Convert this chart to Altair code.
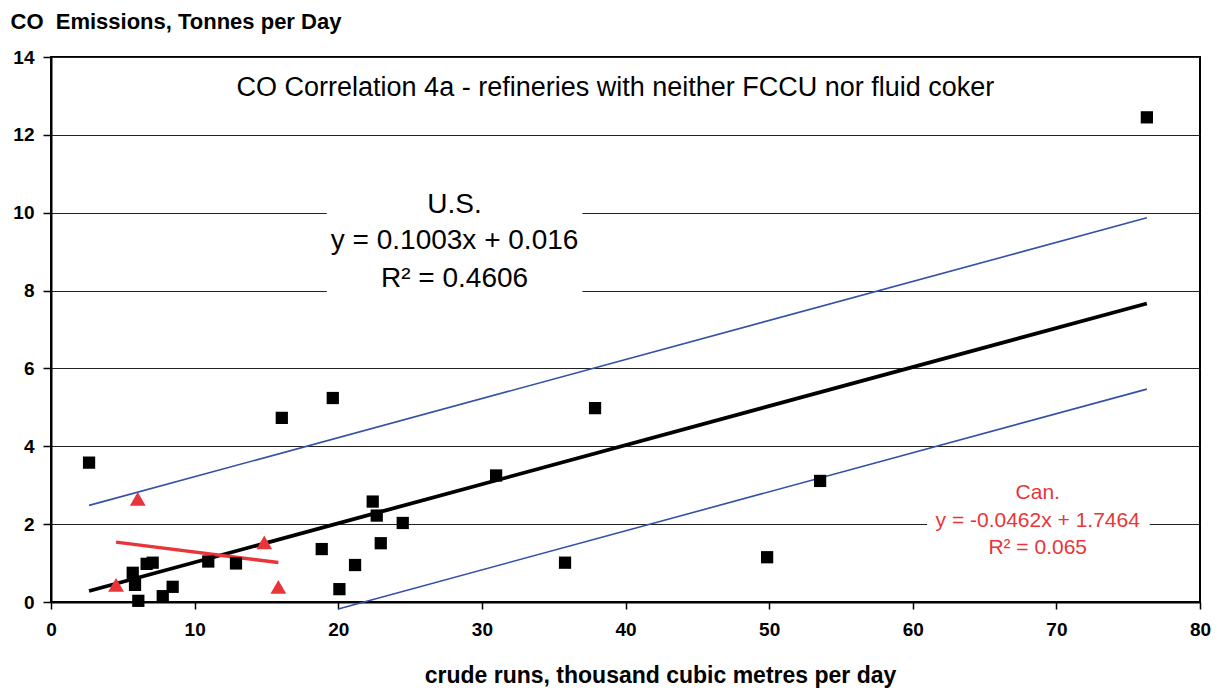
import altair as alt
import pandas as pd

# U.S. refineries (black squares)
us_x = [2.65, 5.69, 5.85, 6.08, 6.66, 7.08, 7.78, 8.47, 10.95, 12.88, 16.07, 19.62,
        18.85, 20.08, 21.17, 22.40, 22.68, 24.49, 22.96, 30.99, 37.88, 35.79, 49.86,
        53.55, 76.30]
us_y = [3.58, 0.75, 0.44, 0.03, 0.98, 1.01, 0.15, 0.39, 1.04, 0.99, 4.73, 5.24,
        1.36, 0.33, 0.95, 2.58, 2.22, 2.03, 1.51, 3.25, 4.98, 1.01, 1.15,
        3.11, 12.45]

# Canadian refineries (red triangles)
can_x = [4.53, 6.04, 14.85, 15.83]
can_y = [0.44, 2.65, 1.53, 0.39]

x_ticks = [0, 10, 20, 30, 40, 50, 60, 70, 80]
y_ticks = [0, 2, 4, 6, 8, 10, 12, 14]

# regression equations as printed on the chart
us_slope, us_int = 0.1003, 0.016
can_slope, can_int = -0.0462, 1.7464
band_offset = 2.2
lower_band_start = 20.0  # lower band starts here

title_text = ["CO Correlation 4a - refineries with neither FCCU nor fluid coker"]
us_text = ["U.S.", "y = 0.1003x + 0.016", "R\u00b2 = 0.4606"]
can_text = ["Can.", "y = -0.0462x + 1.7464", "R\u00b2 = 0.065"]

FONT = "Liberation Sans"

us_df = pd.DataFrame({"x": us_x, "y": us_y})
can_df = pd.DataFrame({"x": can_x, "y": can_y})
xa, xb = min(us_x), max(us_x)
fit_df = pd.DataFrame({"x": [xa, xb], "y": [us_slope * xa + us_int, us_slope * xb + us_int]})
up_df = pd.DataFrame({"x": [xa, xb],
                      "y": [us_slope * xa + us_int + band_offset, us_slope * xb + us_int + band_offset]})
lo_df = pd.DataFrame({"x": [lower_band_start, xb],
                      "y": [us_slope * lower_band_start + us_int - band_offset,
                            us_slope * xb + us_int - band_offset]})
ca, cb = min(can_x), max(can_x)
can_fit_df = pd.DataFrame({"x": [ca, cb], "y": [can_slope * ca + can_int, can_slope * cb + can_int]})

title_df = pd.DataFrame({"x": [39.3], "y": [13.2], "t": title_text})
us_text_df = pd.DataFrame({"x": [28.1] * 3, "y": [10.2, 9.27, 8.30], "t": us_text})
can_text_df = pd.DataFrame({"x": [68.7] * 3, "y": [2.80, 2.08, 1.39], "t": can_text})
box_df = pd.DataFrame({"x": [19.2, 61.0], "x2": [37.0, 76.5], "y": [7.75, 1.5], "y2": [10.6, 2.5]})

x_scale = alt.Scale(domain=[0, 80], nice=False, zero=False)
y_scale = alt.Scale(domain=[0, 14], nice=False, zero=False)

x_enc = alt.X("x:Q", scale=x_scale, axis=alt.Axis(
    values=x_ticks, grid=False, tickSize=7, labelPadding=11, labelFlush=False,
    title="crude runs, thousand cubic metres per day",
    titleX=609, titleY=80, titleAlign="center", titleBaseline="alphabetic",
    titleFontSize=23, titleFontWeight="bold"))
y_enc = alt.Y("y:Q", scale=y_scale, axis=alt.Axis(
    values=y_ticks, grid=True, gridColor="#222222", gridWidth=1, tickSize=8,
    labelPadding=9, labelFlush=False,
    title="CO\u00a0 Emissions, Tonnes per Day", titleAngle=0, titleAlign="left",
    titleBaseline="alphabetic", titleX=-41, titleY=-29,
    titleFontSize=22, titleFontWeight="bold"))

boxes = alt.Chart(box_df).mark_rect(fill="white").encode(x=x_enc, x2="x2", y=y_enc, y2="y2")
upper = alt.Chart(up_df).mark_line(color="#3350A8", strokeWidth=1.6).encode(x=x_enc, y=y_enc)
lower = alt.Chart(lo_df).mark_line(color="#3350A8", strokeWidth=1.6).encode(x=x_enc, y=y_enc)
fit = alt.Chart(fit_df).mark_line(color="black", strokeWidth=3.8).encode(x=x_enc, y=y_enc)
can_fit = alt.Chart(can_fit_df).mark_line(color="#E8353A", strokeWidth=3.4).encode(x=x_enc, y=y_enc)
us_pts = alt.Chart(us_df).mark_point(shape="square", filled=True, color="black", size=150,
                                     opacity=1).encode(x=x_enc, y=y_enc)
can_pts = alt.Chart(can_df).mark_point(shape="triangle-up", filled=True, color="#E8353A",
                                       size=250, opacity=1).encode(x=x_enc, y=y_enc)
title_t = alt.Chart(title_df).mark_text(font=FONT, fontSize=27, color="black",
                                        baseline="middle").encode(x=x_enc, y=y_enc, text="t:N")
us_t = alt.Chart(us_text_df).mark_text(font=FONT, fontSize=28, color="black",
                                       baseline="middle").encode(x=x_enc, y=y_enc, text="t:N")
can_t = alt.Chart(can_text_df).mark_text(font=FONT, fontSize=21, color="#E8353A",
                                         baseline="middle").encode(x=x_enc, y=y_enc, text="t:N")

chart = alt.layer(
    boxes, upper, lower, fit, can_fit, us_pts, can_pts, title_t, us_t, can_t
).properties(
    width=1149, height=545,
    autosize=alt.AutoSizeParams(type="none"),
    padding={"left": 51, "top": 57, "right": 25, "bottom": 88},
    background="white",
).configure_view(
    stroke="black", strokeWidth=2
).configure_axis(
    domainColor="black", domainWidth=2, tickColor="black", tickWidth=1.5,
    labelFont=FONT, labelFontSize=19, labelFontWeight="bold", labelColor="black",
    titleFont=FONT, titleColor="black"
)

chart.save("out.html", embed_options={"renderer": "svg", "actions": False})
